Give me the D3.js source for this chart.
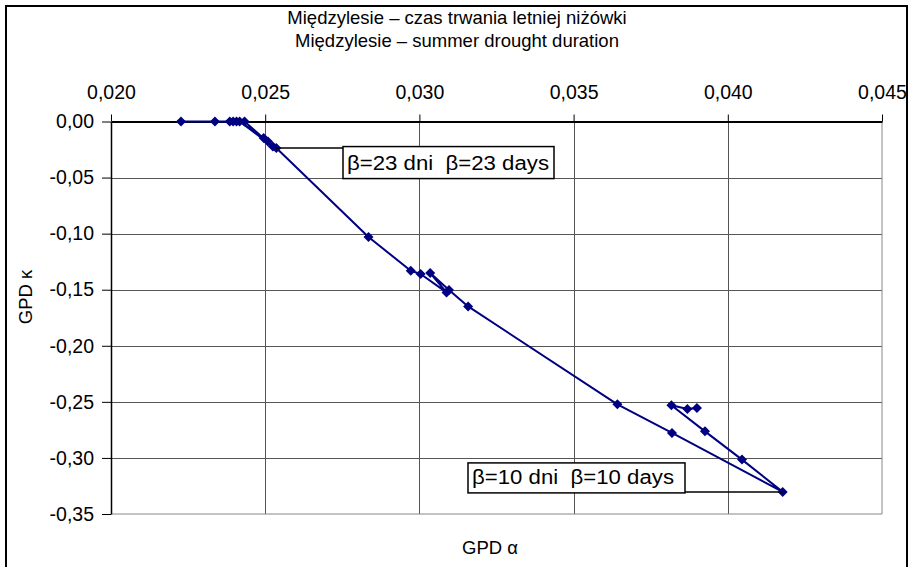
<!DOCTYPE html>
<meta charset="utf-8">
<script src="https://d3js.org/d3.v7.min.js"></script>
<style>
  body { margin: 0; background: #fff; }
  text { font-family: "Liberation Sans", Arial, sans-serif; fill: #000; }
</style>
<body>
<div id="my_dataviz"></div>
<script>
// GPD parameter pairs, in series order
var alphaVals = [0.02227, 0.02337, 0.02385, 0.02396, 0.02407, 0.02433, 0.02525, 0.02417,
                 0.02495, 0.02509, 0.02536, 0.02835, 0.02972, 0.03004, 0.03088, 0.03035,
                 0.03096, 0.03158, 0.03642, 0.03819, 0.04178, 0.04046, 0.03926, 0.03817,
                 0.03869, 0.03900];
var kappaVals = [0, 0, 0, 0, 0, 0, -0.0223, 0,
                 -0.0148, -0.0178, -0.0237, -0.1030, -0.1331, -0.1360, -0.1524, -0.1351,
                 -0.1502, -0.1649, -0.2522, -0.2777, -0.3303, -0.3015, -0.2763, -0.2531,
                 -0.2563, -0.2554];

var xTicks = [0.020, 0.025, 0.030, 0.035, 0.040, 0.045];
var yTicks = [0, -0.05, -0.10, -0.15, -0.20, -0.25, -0.30, -0.35];

var titleLines = ["Międzylesie – czas trwania letniej niżówki",
                  "Międzylesie – summer drought duration"];

// threshold notes and the points they point at
var noteTexts = ["β=23 dni  β=23 days", "β=10 dni  β=10 days"];
var noteAlpha = [0.02536, 0.04178];
var noteKappa = [-0.0237, -0.3303];

var width = 913, height = 567;
var plot = {left: 111, right: 882, top: 121.5, bottom: 514};

var svg = d3.select("#my_dataviz")
  .append("svg")
    .attr("width", width)
    .attr("height", height);

// outer chart frame
svg.append("rect")
  .attr("x", 6).attr("y", 6)
  .attr("width", 901).attr("height", 580)
  .attr("fill", "none")
  .attr("stroke", "#000")
  .attr("stroke-width", 2);

var x = d3.scaleLinear().domain([0.020, 0.045]).range([plot.left, plot.right]);
var y = d3.scaleLinear().domain([0, -0.35]).range([plot.top, plot.bottom]);

// decimal comma, plain hyphen for negatives
var pl = d3.formatLocale({decimal: ",", thousands: " ", grouping: [3], currency: ["", ""], minus: "-"});
var fx = pl.format(".3f"), fy = pl.format(".2f");

// grid
svg.append("g").selectAll("line")
  .data(xTicks.slice(1, -1))
  .enter().append("line")
    .attr("x1", function(d) { return Math.round(x(d)) + 0.5; })
    .attr("x2", function(d) { return Math.round(x(d)) + 0.5; })
    .attr("y1", plot.top).attr("y2", plot.bottom)
    .attr("stroke", "#555");
svg.append("g").selectAll("line")
  .data(yTicks.slice(1, -1))
  .enter().append("line")
    .attr("y1", function(d) { return Math.round(y(d)) + 0.5; })
    .attr("y2", function(d) { return Math.round(y(d)) + 0.5; })
    .attr("x1", plot.left).attr("x2", plot.right)
    .attr("stroke", "#555");

// plot area border (right, bottom)
svg.append("path")
  .attr("d", "M" + plot.right + "," + plot.top + "V" + plot.bottom + "H" + plot.left)
  .attr("fill", "none")
  .attr("stroke", "#888");

// axes
var xAxis = svg.append("g")
  .attr("transform", "translate(0," + plot.top + ")")
  .call(d3.axisTop(x).tickValues(xTicks).tickFormat(fx).tickSize(7).tickPadding(16).tickSizeOuter(0));
var yAxis = svg.append("g")
  .attr("transform", "translate(" + plot.left + ",0)")
  .call(d3.axisLeft(y).tickValues(yTicks).tickFormat(fy).tickSize(9).tickPadding(8).tickSizeOuter(0));

xAxis.select(".domain").attr("stroke", "#000").attr("stroke-width", 2);
yAxis.select(".domain").attr("stroke", "#000").attr("stroke-width", 1.5);
[xAxis, yAxis].forEach(function(a) {
  a.selectAll(".tick line").attr("stroke", "#000");
  a.selectAll(".tick text")
    .style("font-family", "'Liberation Sans', Arial, sans-serif")
    .style("font-size", "19.5px")
    .attr("fill", "#000");
});

// series line
var line = d3.line()
  .x(function(d) { return x(d[0]); })
  .y(function(d) { return y(d[1]); });
var pts = alphaVals.map(function(a, i) { return [a, kappaVals[i]]; });

svg.append("path")
  .datum(pts)
  .attr("fill", "none")
  .attr("stroke", "#000080")
  .attr("stroke-width", 2)
  .attr("stroke-linejoin", "round")
  .attr("d", line);

svg.append("g").selectAll("path")
  .data(pts)
  .enter().append("path")
    .attr("transform", function(d) { return "translate(" + x(d[0]) + "," + y(d[1]) + ")"; })
    .attr("d", d3.symbol(d3.symbolDiamond2, 64))
    .attr("fill", "#000080");

// notes with leader lines
var boxes = [
  {left: 343, top: y(noteKappa[0]) - 1.5, w: 211, h: 32, side: "top"},
  {left: 468, top: y(noteKappa[1]) - 29, w: 217, h: 30, side: "bottom"}
];
boxes.forEach(function(b, i) {
  var ay = y(noteKappa[i]);
  var ax = x(noteAlpha[i]);
  var lx = b.side === "top" ? b.left : b.left + b.w;
  svg.append("line")
    .attr("x1", ax).attr("x2", lx)
    .attr("y1", ay).attr("y2", ay)
    .attr("stroke", "#000").attr("stroke-width", 1.5);
  svg.append("rect")
    .attr("x", b.left).attr("y", b.top)
    .attr("width", b.w).attr("height", b.h)
    .attr("fill", "#fff")
    .attr("stroke", "#000").attr("stroke-width", 1.5);
  svg.append("text")
    .attr("x", b.left + 4)
    .attr("y", b.top + b.h - 9)
    .attr("xml:space", "preserve")
    .attr("textLength", 202)
    .attr("lengthAdjust", "spacingAndGlyphs")
    .style("white-space", "pre")
    .style("font-size", "19.5px")
    .text(noteTexts[i]);
});

// titles
svg.append("g").selectAll("text")
  .data(titleLines)
  .enter().append("text")
    .attr("x", 457)
    .attr("y", function(d, i) { return 24 + i * 23; })
    .attr("text-anchor", "middle")
    .style("font-size", "18.5px")
    .text(function(d) { return d; });

svg.append("text")
  .attr("x", 490).attr("y", 554)
  .attr("text-anchor", "middle")
  .style("font-size", "18.5px")
  .text("GPD α");

svg.append("text")
  .attr("transform", "translate(32,297) rotate(-90)")
  .attr("text-anchor", "middle")
  .style("font-size", "18.5px")
  .text("GPD κ");
</script>
</body>
